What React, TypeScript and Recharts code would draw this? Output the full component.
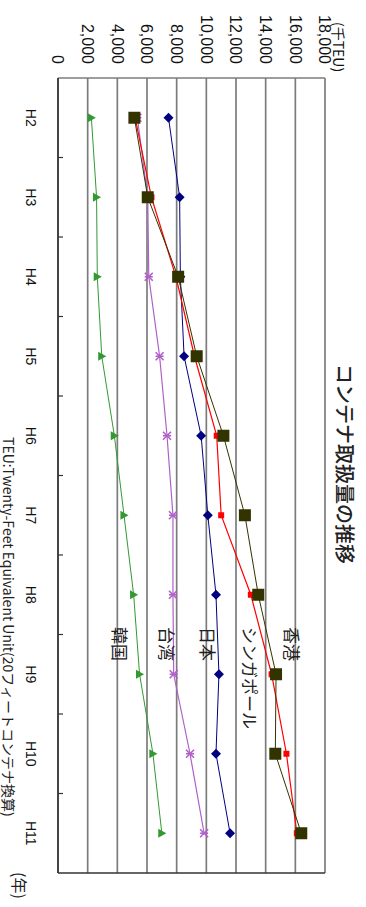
import { LineChart, Line, XAxis, YAxis, CartesianGrid, ReferenceLine } from "recharts";

// 千TEU per fiscal year
const years = ["H2", "H3", "H4", "H5", "H6", "H7", "H8", "H9", "H10", "H11"];
const hongKong = [5150, 6050, 8100, 9350, 11150, 12600, 13500, 14700, 14650, 16400];
const singapore = [5200, 6300, 7950, 9200, 10700, 11000, 13000, 14400, 15400, 16100];
const japan = [7450, 8200, 8250, 8500, 9650, 10100, 10650, 10850, 10650, 11600];
const taiwan = [5350, 6050, 6120, 6850, 7350, 7750, 7750, 7800, 8900, 9850];
const korea = [2250, 2600, 2650, 2950, 3800, 4450, 5100, 5500, 6400, 7000];
const valueTicks = [0, 2000, 4000, 6000, 8000, 10000, 12000, 14000, 16000, 18000];

const W = 907;
const H = 366;
const LATIN = "'Liberation Sans', Arial, sans-serif";
const CJK = "'Noto Sans CJK JP', sans-serif";

const rows = years.map((y, i) => ({
  i,
  year: y,
  hk: hongKong[i],
  sg: singapore[i],
  jp: japan[i],
  tw: taiwan[i],
  kr: korea[i],
}));

// small marks between the year slots
const boundaryTicks = years.slice(1).map((_, i) => i + 0.5);

function Square({ cx, cy, size, fill }: any) {
  return <rect x={cx - size / 2} y={cy - size / 2} width={size} height={size} fill={fill} />;
}

function Diamond({ cx, cy, r, fill }: any) {
  return <polygon points={`${cx},${cy - r} ${cx + r},${cy} ${cx},${cy + r} ${cx - r},${cy}`} fill={fill} />;
}

function Triangle({ cx, cy, r, fill }: any) {
  return <polygon points={`${cx},${cy - r} ${cx + r},${cy + r * 0.8} ${cx - r},${cy + r * 0.8}`} fill={fill} />;
}

function Star({ cx, cy, r, stroke }: any) {
  return (
    <g stroke={stroke} strokeWidth={1.6}>
      <line x1={cx - r} y1={cy - r} x2={cx + r} y2={cy + r} />
      <line x1={cx - r} y1={cy + r} x2={cx + r} y2={cy - r} />
      <line x1={cx} y1={cy - r} x2={cx} y2={cy + r} />
    </g>
  );
}

const NoLabel = () => <g />;

const seriesLabels = [
  { text: "香港", y: 74 },
  { text: "シンガポール", y: 116 },
  { text: "日本", y: 158 },
  { text: "台湾", y: 199 },
  { text: "韓国", y: 246 },
];

function Chart() {
  return (
    <div style={{ position: "relative", width: W, height: H, background: "#fff" }}>
      <LineChart width={W} height={H} data={rows} margin={{ top: 41, right: 34, bottom: 0, left: 0 }}>
        <CartesianGrid vertical={false} stroke="#7c7c7c" strokeWidth={1.7} />
        <YAxis
          type="number"
          domain={[0, 18000]}
          ticks={valueTicks}
          width={78}
          tickLine={false}
          tickSize={0}
          tickMargin={14}
          axisLine={{ stroke: "#7c7c7c", strokeWidth: 1.7 }}
          tickFormatter={(v: number) => v.toLocaleString("en-US")}
          tick={{ fontSize: 16, fill: "#111", fontFamily: LATIN }}
        />
        <XAxis
          xAxisId="main"
          type="number"
          dataKey="i"
          domain={[-0.5, 9.5]}
          ticks={years.map((_, i) => i)}
          height={58}
          tickLine={false}
          tickSize={0}
          tickMargin={22}
          axisLine={{ stroke: "#333", strokeWidth: 1.6 }}
          tickFormatter={(i: number) => years[i]}
          tick={{ fontSize: 14, fill: "#111", fontFamily: LATIN }}
        />
        <XAxis
          xAxisId="minor"
          type="number"
          dataKey="i"
          domain={[-0.5, 9.5]}
          ticks={boundaryTicks}
          mirror
          tick={NoLabel}
          axisLine={false}
          tickSize={5}
          tickLine={{ stroke: "#333", strokeWidth: 1.2 }}
        />
        <ReferenceLine xAxisId="main" x={9.5} stroke="#333" strokeWidth={1.6} />
        <Line
          xAxisId="main"
          dataKey="kr"
          stroke="#339933"
          strokeWidth={1}
          isAnimationActive={false}
          dot={(p: any) => <Triangle key={`kr${p.index}`} cx={p.cx} cy={p.cy} r={4.5} fill="#339933" />}
        />
        <Line
          xAxisId="main"
          dataKey="tw"
          stroke="#b060c8"
          strokeWidth={1.2}
          isAnimationActive={false}
          dot={(p: any) => <Star key={`tw${p.index}`} cx={p.cx} cy={p.cy} r={4} stroke="#b060c8" />}
        />
        <Line
          xAxisId="main"
          dataKey="jp"
          stroke="#000080"
          strokeWidth={1}
          isAnimationActive={false}
          dot={(p: any) => <Diamond key={`jp${p.index}`} cx={p.cx} cy={p.cy} r={5} fill="#000080" />}
        />
        <Line
          xAxisId="main"
          dataKey="sg"
          stroke="#ff0000"
          strokeWidth={1.2}
          isAnimationActive={false}
          dot={(p: any) => <Square key={`sg${p.index}`} cx={p.cx} cy={p.cy} size={6} fill="#ff0000" />}
        />
        <Line
          xAxisId="main"
          dataKey="hk"
          stroke="#333300"
          strokeWidth={1}
          isAnimationActive={false}
          dot={(p: any) => <Square key={`hk${p.index}`} cx={p.cx} cy={p.cy} size={12} fill="#333300" />}
        />
      </LineChart>
      <svg width={W} height={H} style={{ position: "absolute", left: 0, top: 0, pointerEvents: "none" }}>
        <text x={464} y={21} textAnchor="middle" dominantBaseline="central" fontSize={20} fontWeight={500} fontFamily={CJK} fill="#222">
          コンテナ取扱量の推移
        </text>
        <text x={22} y={27} dominantBaseline="central" fontSize={14} fontFamily={CJK} fill="#111">
          (千TEU)
        </text>
        {seriesLabels.map((s) => (
          <text key={s.text} x={627} y={s.y} dominantBaseline="central" fontSize={17} fontFamily={CJK} fill="#222">
            {s.text}
          </text>
        ))}
        <text x={437} y={357} dominantBaseline="central" fontSize={14} fontFamily={CJK} fill="#222">
          TEU:Twenty-Feet Equivalent Unit(20フィートコンテナ換算)
        </text>
        <text x={872} y={346} dominantBaseline="central" fontSize={16} fontFamily={CJK} fill="#222">
          (年)
        </text>
      </svg>
    </div>
  );
}

export default function App() {
  // the chart is laid out landscape and turned a quarter clockwise onto the portrait page
  return (
    <div style={{ position: "absolute", left: 0, top: 0, width: H, height: W, overflow: "hidden", background: "#fff" }}>
      <div style={{ position: "absolute", left: 0, top: 0, width: W, height: H, transformOrigin: "0 0", transform: `translate(${H}px, 0) rotate(90deg)` }}>
        <Chart />
      </div>
    </div>
  );
}
